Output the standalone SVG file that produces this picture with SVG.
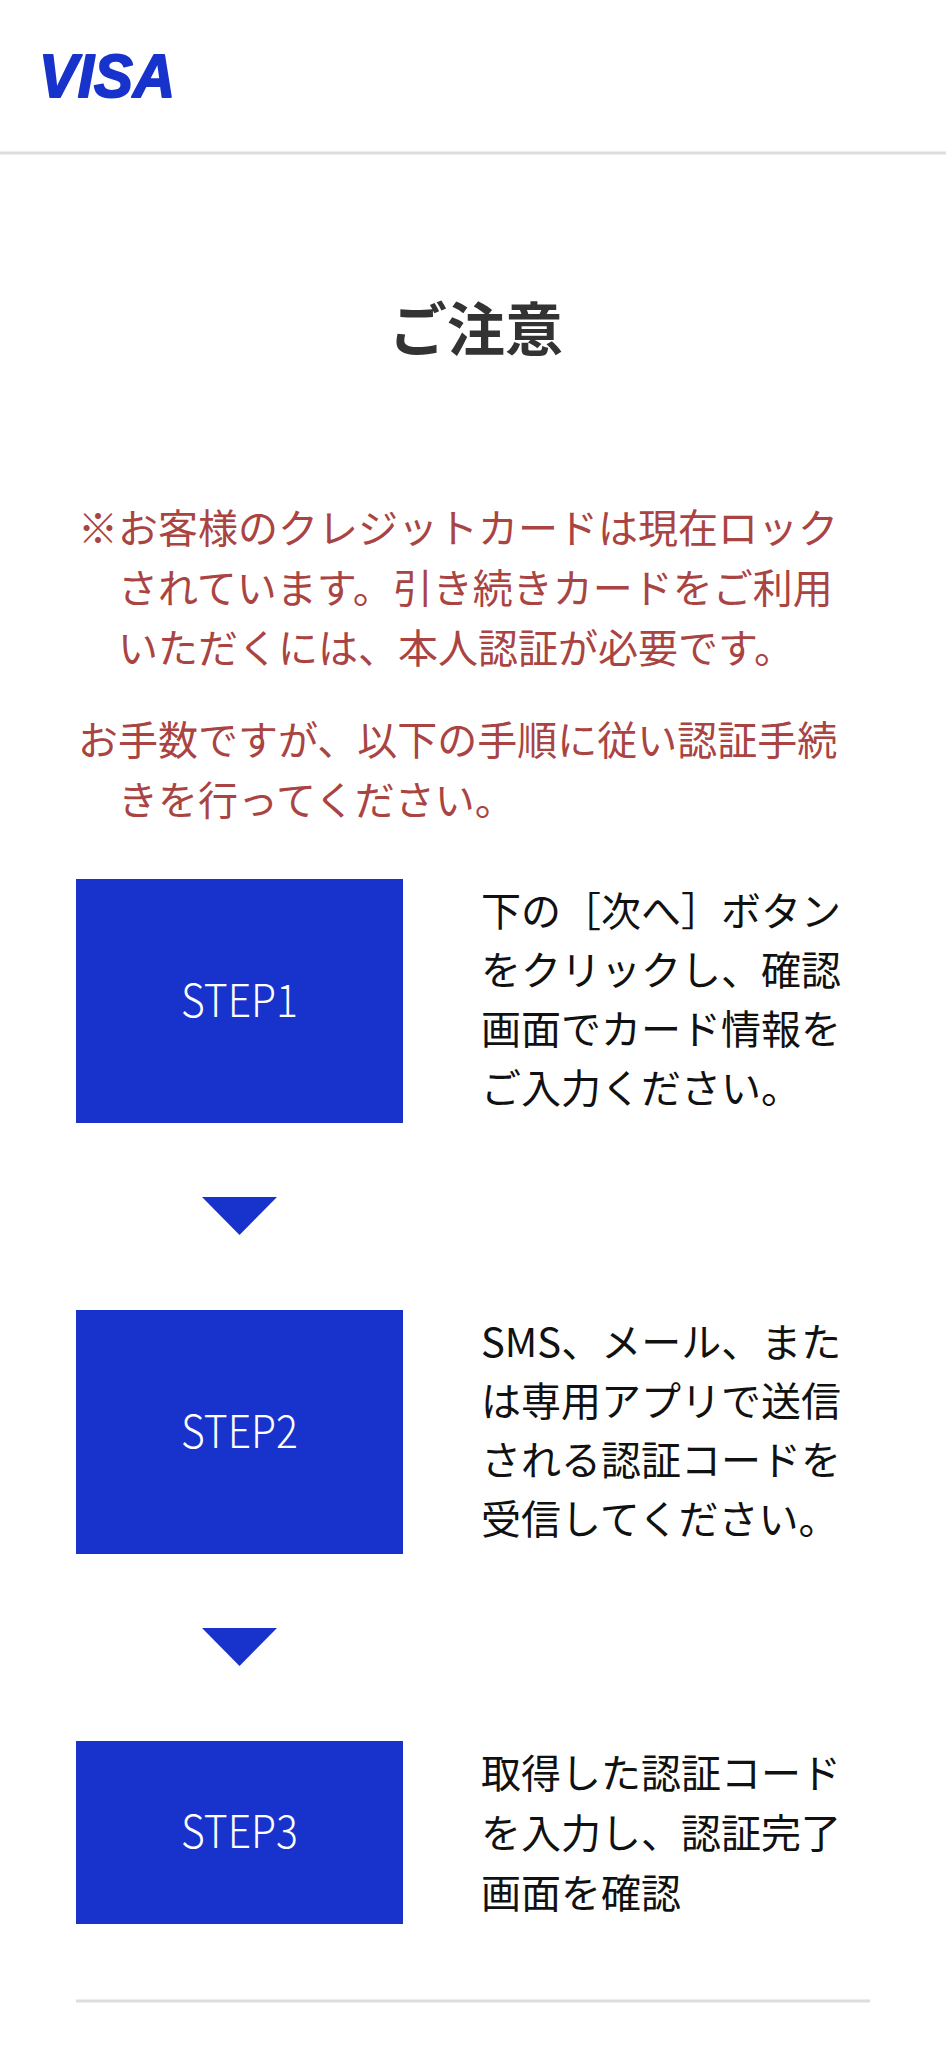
<svg xmlns="http://www.w3.org/2000/svg" width="946" height="2048" viewBox="0 0 946 2048">
<style>
.jp{font-family:"Noto Sans CJK JP","Noto Sans",sans-serif;}
.red{fill:#a94442;font-size:40px;}
.desc{fill:#111;font-size:40px;}
.box{fill:#1733cb;}
.lbl{fill:#ffffff;font-size:45px;font-weight:300;text-anchor:middle;}
.arrow{fill:#1733cb;}
.rule{stroke:#dddddd;stroke-width:3;}
</style>
<rect x="0" y="0" width="946" height="2048" fill="#ffffff"/>
<g id="header">
<text x="39" y="97" font-family="Liberation Sans, Arial, sans-serif" font-weight="bold" font-style="italic" font-size="62" fill="#1733cb" stroke="#1733cb" stroke-width="2" stroke-linejoin="round" textLength="136" lengthAdjust="spacingAndGlyphs">VISA</text>
<line class="rule" x1="0" y1="153" x2="946" y2="153"/>
</g>
<g id="title">
<text class="jp" x="476" y="351" font-size="58" font-weight="bold" fill="#333333" text-anchor="middle">ご注意</text>
</g>
<g id="notice">
<text class="jp red" x="78" y="543">※お客様のクレジットカードは現在ロック</text>
<text class="jp red" x="118" y="603">されています。引き続きカードをご利用</text>
<text class="jp red" x="118" y="663">いただくには、本人認証が必要です。</text>
<text class="jp red" x="78" y="755">お手数ですが、以下の手順に従い認証手続</text>
<text class="jp red" x="118" y="815">きを行ってください。</text>
</g>
<g id="step1">
<rect class="box" x="76" y="879" width="327" height="244"/>
<text class="jp lbl" x="239.5" y="1017" textLength="117" lengthAdjust="spacingAndGlyphs">STEP1</text>
<text class="jp desc" x="481" y="926">下の［次へ］ボタン</text>
<text class="jp desc" x="481" y="985">をクリックし、確認</text>
<text class="jp desc" x="481" y="1044">画面でカード情報を</text>
<text class="jp desc" x="481" y="1103">ご入力ください。</text>
</g>
<g id="step2">
<rect class="box" x="76" y="1310" width="327" height="244"/>
<text class="jp lbl" x="239.5" y="1448" textLength="117" lengthAdjust="spacingAndGlyphs">STEP2</text>
<text class="jp desc" x="481" y="1357">SMS、メール、また</text>
<text class="jp desc" x="481" y="1416">は専用アプリで送信</text>
<text class="jp desc" x="481" y="1475">される認証コードを</text>
<text class="jp desc" x="481" y="1534">受信してください。</text>
</g>
<g id="step3">
<rect class="box" x="76" y="1741" width="327" height="183"/>
<text class="jp lbl" x="239.5" y="1848" textLength="117" lengthAdjust="spacingAndGlyphs">STEP3</text>
<text class="jp desc" x="481" y="1788">取得した認証コード</text>
<text class="jp desc" x="481" y="1848">を入力し、認証完了</text>
<text class="jp desc" x="481" y="1908">画面を確認</text>
</g>
<g id="connectors">
<polygon class="arrow" points="202,1197 277,1197 239.5,1235"/>
<polygon class="arrow" points="202,1628 277,1628 239.5,1666"/>
</g>
<g id="footer">
<line class="rule" x1="76" y1="2001" x2="870" y2="2001"/>
</g>
</svg>
